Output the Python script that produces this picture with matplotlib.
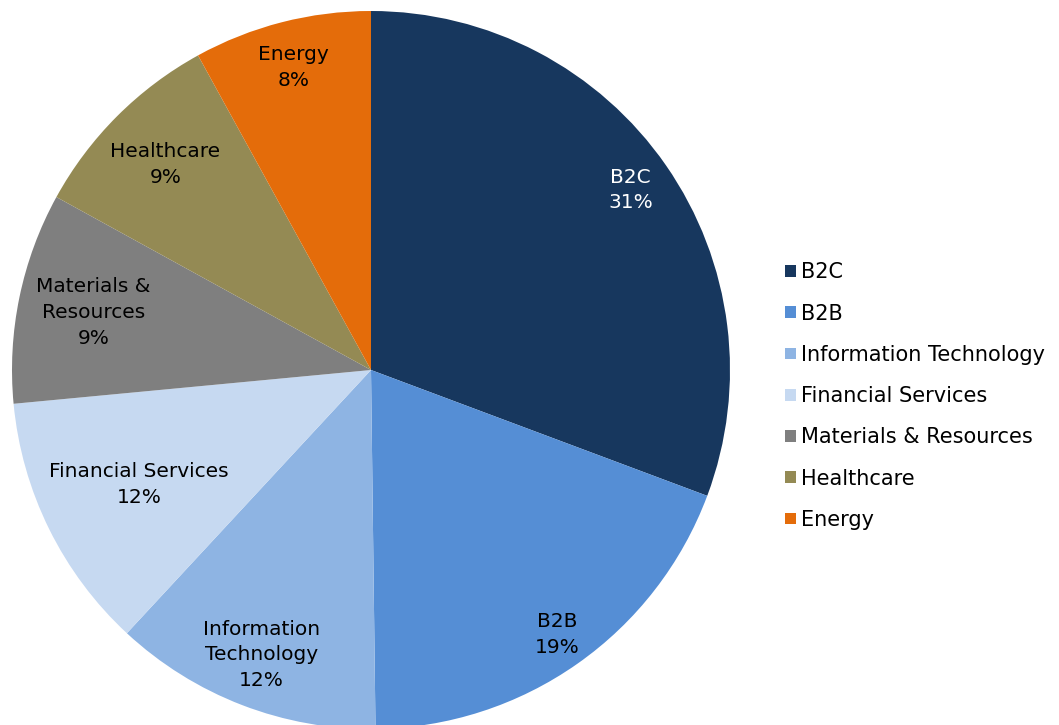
import numpy as np
import matplotlib.pyplot as plt
from matplotlib.patches import Patch

plt.rcParams['font.family'] = ['DejaVu Sans']

sectors = ['B2C', 'B2B', 'Information Technology', 'Financial Services',
           'Materials & Resources', 'Healthcare', 'Energy']
slice_labels = ['B2C', 'B2B', 'Information\nTechnology', 'Financial Services',
                'Materials &\nResources', 'Healthcare', 'Energy']
shares = [30.7, 19.1, 12.1, 11.6, 9.5, 9.0, 8.0]
shown_pct = ['31%', '19%', '12%', '12%', '9%', '9%', '8%']
colors = ['#17375E', '#558ED5', '#8EB4E3', '#C6D9F1', '#7F7F7F', '#948A54', '#E46C0A']
text_colors = ['white', 'black', 'black', 'black', 'black', 'black', 'black']
label_r = [0.88, 0.90, 0.85, 0.72, 0.79, 0.81, 0.87]

fig = plt.figure(figsize=(10.59, 7.25), dpi=100)
ax = fig.add_axes([12 / 1059, -4 / 725, 718 / 1059, 718 / 725])

wedges, _ = ax.pie(shares, colors=colors, startangle=90, counterclock=False,
                   radius=1.0, wedgeprops=dict(linewidth=0))
ax.set_xlim(-1, 1)
ax.set_ylim(-1, 1)
ax.set_aspect('equal')

for w, lab, pct, tc, r in zip(wedges, slice_labels, shown_pct, text_colors, label_r):
    mid = np.deg2rad((w.theta1 + w.theta2) / 2)
    ax.text(r * np.cos(mid), r * np.sin(mid), f'{lab}\n{pct}',
            ha='center', va='center', color=tc, fontsize=14.5,
            linespacing=1.45)

handles = [Patch(facecolor=c, edgecolor='none') for c in colors]
fig.legend(handles, sectors, loc='upper left', bbox_to_anchor=(777 / 1059, 1 - 254 / 725),
           frameon=False, fontsize=15, handlelength=0.5, handleheight=0.5,
           handletextpad=0.25, labelspacing=1.02, borderaxespad=0)

fig.savefig('out.png', dpi=100)
